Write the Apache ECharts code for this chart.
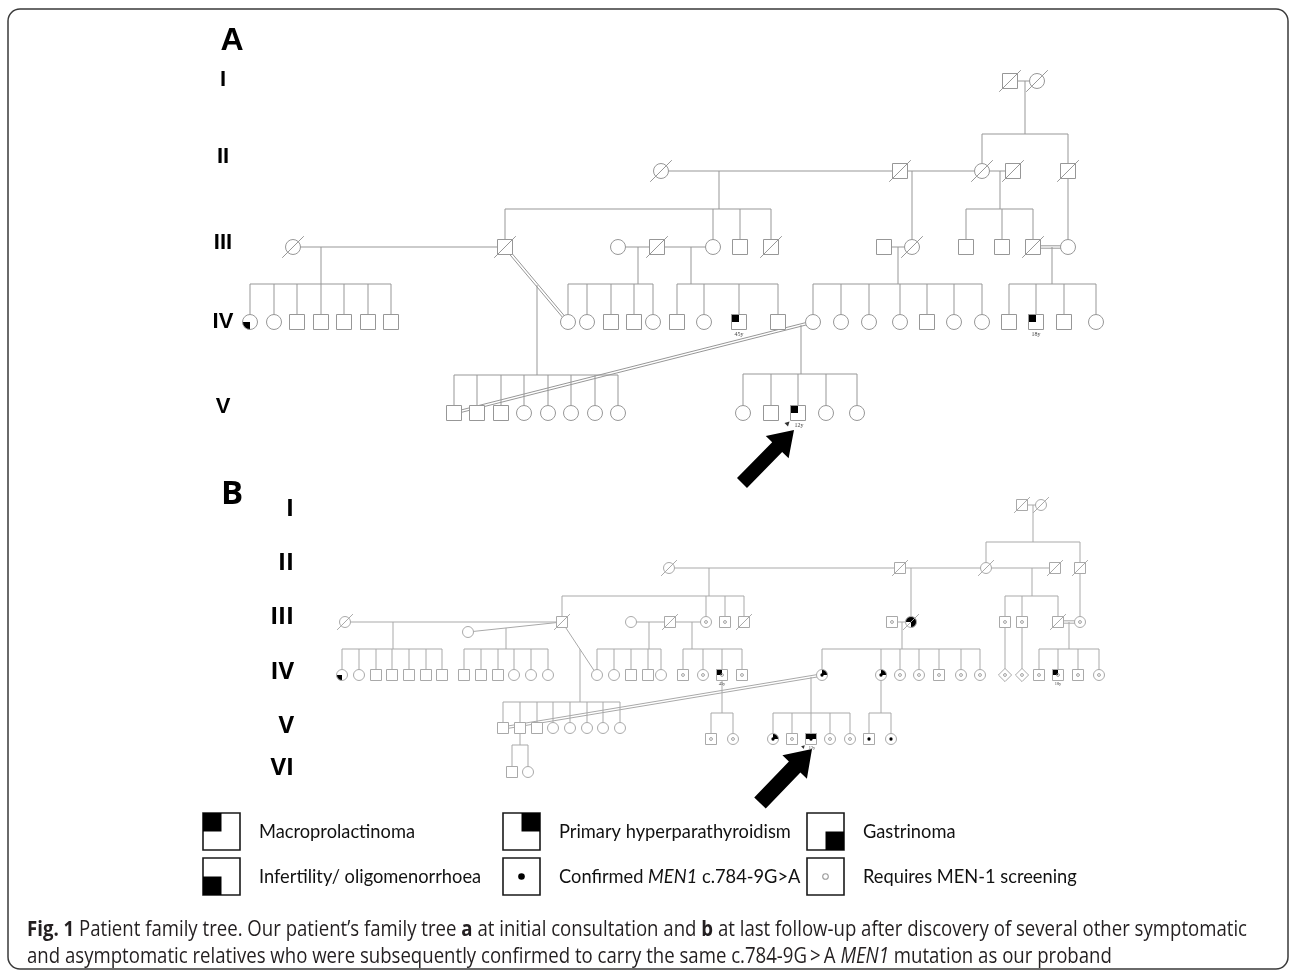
<!DOCTYPE html>
<html><head><meta charset="utf-8">
<script src="https://cdn.jsdelivr.net/npm/echarts@6/dist/echarts.min.js"></script>
<style>html,body{margin:0;padding:0;background:#fff}#c{width:1296px;height:974px}</style>
</head><body><div id="c"></div>
<script>
// ================= DATA =================
// generation labels and the vertical level of each generation row
const genLabelsA = ['I','II','III','IV','V'];
const genLabelYA = [80,157,243,322,407];
const genLevelsA = {I:81, II:171, III:247, IV:322, V:413};
const genLabelsB = ['I','II','III','IV','V','VI'];
const genLabelYB = [509,563,617,672,726,768];
const genLevelsB = {I:505, II:568, III:622, 'III*':632, IV:675, V:728, 'V*':739, VI:772};

// person: [id, x, generation, sex(m/f/u), status, age]
// status: d deceased, 1 top-left, 2 top-right, 3 bottom-right, 4 bottom-left, c confirmed, s screening, p proband
const peopleA = [
 ['a1',1010,'I','m','d'],['a2',1037,'I','f','d'],
 ['a3',661,'II','f','d'],['a4',900,'II','m','d'],['a5',982,'II','f','d'],['a6',1013,'II','m','d'],['a7',1068,'II','m','d'],
 ['a8',293,'III','f','d'],['a9',505,'III','m','d'],['a10',618,'III','f',''],['a11',657,'III','m','d'],['a12',713,'III','f',''],
 ['a13',740,'III','m',''],['a14',771,'III','m','d'],['a15',884,'III','m',''],['a16',912,'III','f','d'],['a17',966,'III','m',''],
 ['a18',1002,'III','m',''],['a19',1033,'III','m','d'],['a20',1068,'III','f',''],
 ['a21',250,'IV','f','4'],['a22',274,'IV','f',''],['a23',297,'IV','m',''],['a24',321,'IV','m',''],['a25',344,'IV','m',''],['a26',368,'IV','m',''],['a27',391,'IV','m',''],
 ['a28',568,'IV','f',''],['a29',587,'IV','f',''],['a30',611,'IV','m',''],['a31',634,'IV','m',''],['a32',653,'IV','f',''],
 ['a33',677,'IV','m',''],['a34',704,'IV','f',''],['a35',739,'IV','m','1','45y'],['a36',778,'IV','m',''],
 ['a37',813,'IV','f',''],['a38',841,'IV','f',''],['a39',869,'IV','f',''],['a40',900,'IV','f',''],['a41',927,'IV','m',''],['a42',954,'IV','f',''],['a43',982,'IV','f',''],
 ['a44',1009,'IV','m',''],['a45',1036,'IV','m','1','18y'],['a46',1064,'IV','m',''],['a47',1096,'IV','f',''],
 ['a48',454,'V','m',''],['a49',477,'V','m',''],['a50',501,'V','m',''],['a51',524,'V','f',''],['a52',548,'V','f',''],['a53',571,'V','f',''],['a54',595,'V','f',''],['a55',618,'V','f',''],
 ['a56',743,'V','f',''],['a57',771,'V','m',''],['a58',798,'V','m','1p','12y'],['a59',826,'V','f',''],['a60',857,'V','f','']
];
// couples: [id1, id2, consanguineous(double line)]
const couplesA = [
 ['a1','a2',0],['a3','a4',0],['a4','a5',0],['a5','a6',0],
 ['a8','a9',0],['a10','a11',0],['a11','a12',0],['a15','a16',0],['a19','a20',1],
 ['a9','a28',1],['a48','a37',1]
];
// sibships: [parents, descent x, sibship line level (null = single child), children]
const sibshipsA = [
 [['a1','a2'],1025,134,['a5','a7']],
 [['a3','a4'],719,209,['a9','a12','a13','a14']],
 [['a4','a5'],912,null,['a16']],
 [['a5','a6'],1000,209,['a17','a18','a19']],
 [['a7'],1068,null,['a20']],
 [['a8','a9'],321,284,['a21','a22','a23','a24','a25','a26','a27']],
 [['a10','a11'],638,284,['a28','a29','a30','a31','a32']],
 [['a11','a12'],691,284,['a33','a34','a35','a36']],
 [['a15','a16'],898,284,['a37','a38','a39','a40','a41','a42','a43']],
 [['a19','a20'],1052,284,['a44','a45','a46','a47']],
 [['a9','a28'],537,375,['a48','a49','a50','a51','a52','a53','a54','a55']],
 [['a48','a37'],801,374,['a56','a57','a58','a59','a60']]
];

const peopleB = [
 ['b1',1022,'I','m','d'],['b2',1041,'I','f','d'],
 ['b3',669,'II','f','d'],['b4',900,'II','m','d'],['b5',986,'II','f','d'],['b6',1055,'II','m','d'],['b7',1080,'II','m','d'],
 ['b8',345,'III','f','d'],['b9',468,'III*','f',''],['b10',562,'III','m','d'],['b11',631,'III','f',''],['b12',670,'III','m','d'],
 ['b13',706,'III','f','s'],['b14',725,'III','m','s'],['b15',744,'III','m','d'],['b16',892,'III','m','s'],['b17',911,'III','f','d123'],
 ['b18',1005,'III','m','s'],['b19',1022,'III','m','s'],['b20',1058,'III','m','d'],['b21',1080,'III','f','s'],
 ['b22',342,'IV','f','4'],['b23',359,'IV','f',''],['b24',376,'IV','m',''],['b25',392,'IV','m',''],['b26',409,'IV','m',''],['b27',426,'IV','m',''],['b28',442,'IV','m',''],
 ['b29',464,'IV','m',''],['b30',481,'IV','m',''],['b31',498,'IV','m',''],['b32',514,'IV','f',''],['b33',531,'IV','f',''],['b34',548,'IV','f',''],
 ['b35',597,'IV','f',''],['b36',614,'IV','f',''],['b37',631,'IV','m',''],['b38',648,'IV','m',''],['b39',661,'IV','f',''],
 ['b40',683,'IV','m','s'],['b41',703,'IV','f','s'],['b42',722,'IV','m','1s','45y'],['b43',742,'IV','m','s'],
 ['b44',822,'IV','f','2c'],['b45',881,'IV','f','2c'],['b46',900,'IV','f','s'],['b47',919,'IV','f','s'],['b48',939,'IV','m','s'],['b49',961,'IV','f','s'],['b50',980,'IV','f','s'],
 ['b51',1005,'IV','u','s'],['b52',1022,'IV','u','s'],
 ['b53',1039,'IV','m','s'],['b54',1058,'IV','m','1s','18y'],['b55',1078,'IV','m','s'],['b56',1099,'IV','f','s'],
 ['b57',503,'V','m',''],['b58',520,'V','m',''],['b59',537,'V','m',''],['b60',553,'V','f',''],['b61',570,'V','f',''],['b62',587,'V','f',''],['b63',603,'V','f',''],['b64',620,'V','f',''],
 ['b65',711,'V*','m','s'],['b66',733,'V*','f','s'],
 ['b67',773,'V*','f','2c'],['b68',792,'V*','m','s'],['b69',811,'V*','m','12cp','12y'],['b70',830,'V*','f','s'],['b71',850,'V*','f','s'],
 ['b72',869,'V*','m','c'],['b73',891,'V*','f','c'],
 ['b74',512,'VI','m',''],['b75',528,'VI','f','']
];
const couplesB = [
 ['b1','b2',0],['b3','b4',0],['b4','b5',0],['b5','b6',0],
 ['b8','b10',0],['b9','b10',0],['b11','b12',0],['b12','b13',0],['b16','b17',0],['b20','b21',1],
 ['b10','b35',0],['b57','b44',1]
];
const sibshipsB = [
 [['b1','b2'],1033,542,['b5','b7']],
 [['b3','b4'],709,596,['b10','b13','b14','b15']],
 [['b4','b5'],911,null,['b17']],
 [['b5','b6'],1032,596,['b18','b19','b20']],
 [['b7'],1080,null,['b21']],
 [['b8','b10'],393,649,['b22','b23','b24','b25','b26','b27','b28']],
 [['b9','b10'],506,649,['b29','b30','b31','b32','b33','b34']],
 [['b11','b12'],649,649,['b35','b36','b37','b38','b39']],
 [['b12','b13'],692,649,['b40','b41','b42','b43']],
 [['b16','b17'],902,649,['b44','b45','b46','b47','b48','b49','b50']],
 [['b18'],1005,null,['b51']],
 [['b19'],1022,null,['b52']],
 [['b20','b21'],1069,649,['b53','b54','b55','b56']],
 [['b10','b35'],580,702,['b57','b58','b59','b60','b61','b62','b63','b64']],
 [['b42'],722,713,['b65','b66']],
 [['b57','b44'],811,713,['b67','b68','b69','b70','b71']],
 [['b45'],881,713,['b72','b73']],
 [['b58'],520,745,['b74','b75']]
];

const legendNames = ['Macroprolactinoma','Primary hyperparathyroidism','Gastrinoma',
  'Infertility/ oligomenorrhoea','Confirmed {i|MEN1} c.784-9G>A','Requires MEN-1 screening'];
const legendMarks = ['1','2','3','4','c','s'];

const captionLines = [
 '{b|Fig. 1} Patient family tree. Our patient\u2019s family tree {b|a} at initial consultation and {b|b} at last follow-up after discovery of several other symptomatic',
 'and asymptomatic relatives who were subsequently confirmed to carry the same c.784-9G\u2009>\u2009A {i|MEN1} mutation as our proband'
];

// ================= BUILD =================
const STY = {A:{S:15, line:'#979797'}, B:{S:11, line:'#a9a9a9'}};
function toObj(p, panel){
  const lv = panel==='A' ? genLevelsA : genLevelsB;
  return {id:p[0], x:p[1], y:lv[p[2]], sex:p[3], st:p[4]||'', age:p[5]||'', panel};
}
const people = peopleA.map(p=>toObj(p,'A')).concat(peopleB.map(p=>toObj(p,'B')));
const byId = {}; people.forEach(p=>byId[p.id]=p);
const couples = couplesA.concat(couplesB);
const sibships = sibshipsA.concat(sibshipsB);

function seg(x1,y1,x2,y2,col,lw){return {type:'line',shape:{x1,y1,x2,y2},style:{stroke:col,lineWidth:lw||1}};}

function renderCouple(params, api){
  const c = couples[params.dataIndex];
  const pa = byId[c[0]], pb = byId[c[1]];
  const A = api.coord([pa.x,pa.y]), B = api.coord([pb.x,pb.y]);
  const col = STY[pa.panel].line;
  if (!c[2]) return seg(A[0],A[1],B[0],B[1],col);
  const dx=B[0]-A[0], dy=B[1]-A[1], L=Math.hypot(dx,dy), off=1.2, nx=-dy/L*off, ny=dx/L*off;
  return {type:'group',children:[seg(A[0]+nx,A[1]+ny,B[0]+nx,B[1]+ny,col),seg(A[0]-nx,A[1]-ny,B[0]-nx,B[1]-ny,col)]};
}
function renderSib(params, api){
  const s = sibships[params.dataIndex];
  const par = s[0].map(id=>byId[id]);
  const col = STY[par[0].panel].line;
  let start;
  if (par.length===2){
    const P=api.coord([par[0].x,par[0].y]), Q=api.coord([par[1].x,par[1].y]);
    const dp = api.coord([s[1], par[0].y])[0];
    const t = (dp-P[0])/(Q[0]-P[0]);
    start=[dp, P[1]+t*(Q[1]-P[1])];
  } else start = api.coord([s[1], par[0].y]);
  const kids = s[3].map(id=>byId[id]);
  const ch=[];
  if (s[2]==null){
    const k = api.coord([kids[0].x,kids[0].y]);
    ch.push(seg(start[0],start[1],start[0],k[1],col));
  } else {
    const sy = api.coord([s[1], s[2]])[1];
    ch.push(seg(start[0],start[1],start[0],sy,col));
    const pts = kids.map(k=>api.coord([k.x,k.y]));
    const xs = pts.map(p=>p[0]);
    ch.push(seg(Math.min(...xs,start[0]),sy,Math.max(...xs,start[0]),sy,col));
    pts.forEach(p=>ch.push(seg(p[0],sy,p[0],p[1],col)));
  }
  return {type:'group',children:ch};
}

function arrowPoly(tip, tail, hl, hw, sw){
  const dx=tip[0]-tail[0], dy=tip[1]-tail[1], L=Math.hypot(dx,dy), ux=dx/L, uy=dy/L, nx=-uy, ny=ux;
  const bx=tip[0]-ux*hl, by=tip[1]-uy*hl;
  return [[tip[0],tip[1]],[bx+nx*hw,by+ny*hw],[bx+nx*sw,by+ny*sw],[tail[0]+nx*sw,tail[1]+ny*sw],
          [tail[0]-nx*sw,tail[1]-ny*sw],[bx-nx*sw,by-ny*sw],[bx-nx*hw,by-ny*hw]];
}
// pointer arrow style per panel: tip offset from proband, tail offset from proband, head length, head half-width, shaft half-width
const POINTER = {A:{tip:[-4,17],tail:[-56,70],hl:24,hw:16,sw:7}, B:{tip:[1,10],tail:[-51,64],hl:25,hw:17,sw:8}};

function renderPerson(params, api){
  const p = people[params.dataIndex];
  const st = STY[p.panel], S=st.S, h=S/2;
  const c = api.coord([p.x,p.y]), cx=c[0], cy=c[1];
  const ch=[];
  const shape=(fill,stroke)=>{
    const style={fill,stroke,lineWidth:1};
    if (p.sex==='m') return {type:'rect',shape:{x:cx-h,y:cy-h,width:S,height:S},style};
    if (p.sex==='f') return {type:'circle',shape:{cx,cy,r:h},style};
    const d=h*1.2; return {type:'polygon',shape:{points:[[cx,cy-d],[cx+d,cy],[cx,cy+d],[cx-d,cy]]},style};
  };
  if (p.st.includes('p')){
    const P=POINTER[p.panel];
    ch.push({type:'polygon',shape:{points:arrowPoly([cx+P.tip[0],cy+P.tip[1]],[cx+P.tail[0],cy+P.tail[1]],P.hl,P.hw,P.sw)},style:{fill:'#000'}});
    const k=S/15, tx=cx-h-1*k, ty=cy+h+1*k;
    ch.push({type:'polygon',shape:{points:[[tx,ty],[tx-5*k,ty+1.5*k],[tx-1.5*k,ty+5*k]]},style:{fill:'#333'}});
  }
  ch.push(shape('#fff','none'));
  const quads={'1':[-1,-1,Math.PI,1.5*Math.PI],'2':[0,-1,-0.5*Math.PI,0],'3':[0,0,0,0.5*Math.PI],'4':[-1,0,0.5*Math.PI,Math.PI]};
  ['1','2','3','4'].forEach(q=>{
    if (!p.st.includes(q)) return;
    const [qx,qy,a0,a1]=quads[q];
    if (p.sex==='f') ch.push({type:'sector',shape:{cx,cy,r0:0,r:h,startAngle:a0,endAngle:a1,clockwise:true},style:{fill:'#000'}});
    else ch.push({type:'rect',shape:{x:cx+qx*h,y:cy+qy*h,width:h,height:h},style:{fill:'#000'}});
  });
  ch.push(shape('none',st.line));
  if (p.st.includes('c')) ch.push({type:'circle',shape:{cx,cy,r:S*0.15},style:{fill:'#000'}});
  if (p.st.includes('s')) ch.push({type:'circle',shape:{cx,cy,r:S*0.13},style:{fill:'none',stroke:'#8a8a8a',lineWidth:0.8}});
  if (p.st.includes('d')) ch.push(seg(cx-0.72*S,cy+0.72*S,cx+0.72*S,cy-0.72*S,st.line));
  if (p.age) ch.push({type:'text',x:cx+(p.st.includes('p')?1:0),y:cy+h+S*0.33,style:{text:p.age,fontSize:S*0.4,fontFamily:'Liberation Serif',fill:'#444',align:'center',verticalAlign:'middle'}});
  return {type:'group',children:ch};
}

// generation labels
const genTexts = genLabelsA.map((t,i)=>({t,y:genLabelYA[i],panel:'A'})).concat(genLabelsB.map((t,i)=>({t,y:genLabelYB[i],panel:'B'})));
function renderGen(params, api){
  const g = genTexts[params.dataIndex];
  const pt = api.coord([g.panel==='A'?223:294, g.y]);
  return {type:'text',x:pt[0],y:pt[1],style:{text:g.t,fontFamily:g.panel==='A'?'Liberation Sans':'Open Sans',fontWeight:'bold',
    fontSize:g.panel==='A'?22:24,fill:'#000',align:g.panel==='A'?'center':'right',verticalAlign:'middle'}};
}

// text measurement helpers (for fitting condensed text widths)
const mctx = document.createElement('canvas').getContext('2d');
function measureRich(str, fam, size){
  let w=0; const re=/\{(\w)\|([^}]*)\}|([^{]+)/g; let m;
  while((m=re.exec(str))){
    if (m[3]!==undefined){ mctx.font=`${size}px "${fam}"`; w+=mctx.measureText(m[3]).width; }
    else { mctx.font=(m[1]==='b'?'bold ':'italic ')+`${size}px "${fam}"`; w+=mctx.measureText(m[2]).width; }
  }
  return w;
}
const LEG_FONT='Lato', LEG_SIZE=19;
const legScale = 156/measureRich('Macroprolactinoma',LEG_FONT,LEG_SIZE);
const CAP_FONT='Open Sans', CAP_SIZE=22;
const capScale = 1220/measureRich(captionLines[0],CAP_FONT,CAP_SIZE);

function renderLegend(params){
  const i=params.dataIndex, col=i%3, row=Math.floor(i/3);
  const X=[203,503,807][col], Y=[813,858][row], W=37, H=37, m=legendMarks[i];
  const ch=[{type:'rect',shape:{x:X,y:Y,width:W,height:H},style:{fill:'#fff',stroke:'#1a1a1a',lineWidth:1.6}}];
  const q={'1':[0,0],'2':[1,0],'3':[1,1],'4':[0,1]}[m];
  if (q) ch.push({type:'rect',shape:{x:X+q[0]*W/2,y:Y+q[1]*H/2,width:W/2,height:H/2},style:{fill:'#000'}});
  if (m==='c') ch.push({type:'circle',shape:{cx:X+W/2,cy:Y+H/2,r:3.3},style:{fill:'#000'}});
  if (m==='s') ch.push({type:'circle',shape:{cx:X+W/2,cy:Y+H/2,r:2.8},style:{fill:'none',stroke:'#999',lineWidth:1.1}});
  ch.push({type:'text',x:X+56,y:Y+H/2,scaleX:legScale,style:{text:legendNames[i],x:0,y:0,fontFamily:LEG_FONT,fontSize:LEG_SIZE,fill:'#111',
    verticalAlign:'middle',align:'left',rich:{i:{fontStyle:'italic',fontFamily:LEG_FONT,fontSize:LEG_SIZE,fill:'#111'}}}});
  return {type:'group',children:ch};
}

const chart = echarts.init(document.getElementById('c'), null, {renderer:'canvas'});
chart.setOption({
  animation:false,
  grid:{left:0,right:0,top:0,bottom:0},
  xAxis:{type:'value',min:0,max:1296,show:false},
  yAxis:{type:'value',min:0,max:974,inverse:true,show:false},
  series:[
    {type:'custom',renderItem:renderCouple,data:couples.map(c=>[byId[c[0]].x,byId[c[0]].y]),silent:true,clip:false},
    {type:'custom',renderItem:renderSib,data:sibships.map(s=>[s[1],s[2]==null?byId[s[0][0]].y:s[2]]),silent:true,clip:false},
    {type:'custom',renderItem:renderPerson,data:people.map(p=>[p.x,p.y]),silent:true,clip:false},
    {type:'custom',renderItem:renderGen,data:genTexts.map(g=>[0,g.y]),silent:true,clip:false},
    {type:'custom',coordinateSystem:'none',renderItem:renderLegend,data:legendNames.map((n,i)=>[i]),silent:true}
  ],
  graphic:[
    {type:'rect',shape:{x:8,y:9,width:1280,height:960,r:12},style:{fill:'none',stroke:'#3a3a3a',lineWidth:1.5},silent:true},
    {type:'text',x:232,y:41,style:{text:'A',fontFamily:'Liberation Sans',fontWeight:'bold',fontSize:32,fill:'#000',align:'center',verticalAlign:'middle'}},
    {type:'text',x:232,y:495,style:{text:'B',fontFamily:'Open Sans',fontWeight:'bold',fontSize:33,fill:'#000',align:'center',verticalAlign:'middle'}},
    ...captionLines.map((t,i)=>({type:'text',x:27,y:930+i*27,scaleX:capScale,
      style:{text:t,x:0,y:0,fontFamily:CAP_FONT,fontSize:CAP_SIZE,fill:'#231f20',verticalAlign:'middle',align:'left',
        rich:{b:{fontWeight:'bold',fontFamily:CAP_FONT,fontSize:CAP_SIZE,fill:'#231f20'},
              i:{fontStyle:'italic',fontFamily:CAP_FONT,fontSize:CAP_SIZE,fill:'#231f20'}}}}))
  ]
});
</script></body></html>
